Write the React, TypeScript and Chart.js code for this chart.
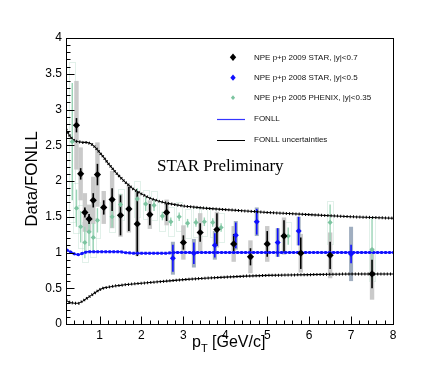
import React, { useEffect, useRef } from 'react';
import { Chart, registerables } from 'chart.js';

Chart.register(...registerables);

// ---- STAR 2009 (black) ----
const STAR09_X = [0.45, 0.55, 0.65, 0.75, 0.85, 0.95, 1.1, 1.3, 1.5, 1.7, 1.9, 2.2, 2.6, 3.0, 3.4, 3.8, 4.2, 4.6, 5.0, 5.4, 5.8, 6.5, 7.5];
const STAR09_Y = [2.78, 2.10, 1.56, 1.47, 1.73, 2.09, 1.63, 1.74, 1.52, 1.61, 1.40, 1.53, 1.56, 1.14, 1.28, 1.32, 1.12, 0.94, 1.12, 1.23, 0.99, 0.96, 0.70];
const STAR09_STAT = [0.10, 0.08, 0.07, 0.07, 0.10, 0.15, 0.10, 0.16, 0.28, 0.31, 0.45, 0.15, 0.12, 0.10, 0.13, 0.23, 0.14, 0.12, 0.18, 0.22, 0.22, 0.19, 0.20];
const STAR09_SYS = [0.62, 0.37, 0.27, 0.20, 0.33, 0.45, 0.23, 0.40, 0.30, 0.33, 0.45, 0.20, 0.18, 0.24, 0.27, 0.25, 0.25, 0.23, 0.25, 0.26, 0.27, 0.32, 0.36];

// ---- STAR 2008 (blue) ----
const STAR08_X = [2.75, 3.25, 3.75, 4.25, 4.75, 5.25, 5.75, 7.0];
const STAR08_Y = [0.92, 0.99, 1.10, 1.24, 1.43, 1.14, 1.30, 0.98];
const STAR08_STAT = [0.19, 0.15, 0.17, 0.18, 0.18, 0.20, 0.20, 0.13];
const STAR08_SYS = [0.23, 0.20, 0.20, 0.20, 0.20, 0.20, 0.20, 0.38];

// ---- PHENIX 2005 (green) ----
const PHENIX_X = [0.35, 0.45, 0.55, 0.65, 0.75, 0.85, 0.95, 1.3, 1.5, 1.9, 2.1, 2.3, 2.5, 2.7, 2.9, 3.1, 3.3, 3.5, 3.7, 3.9, 5.5, 6.5, 7.5];
const PHENIX_Y = [2.55, 1.62, 1.36, 1.14, 1.29, 1.21, 1.45, 1.50, 1.67, 1.75, 1.68, 1.66, 1.51, 1.43, 1.50, 1.41, 1.42, 1.43, 1.42, 1.35, 1.23, 1.42, 1.04];
const PHENIX_STAT = [0.82, 0.26, 0.22, 0.22, 0.20, 0.20, 0.17, 0.15, 0.15, 0.15, 0.10, 0.08, 0.06, 0.06, 0.06, 0.06, 0.06, 0.06, 0.06, 0.06, 0.12, 0.25, 0.44];
const PHENIX_SYS = [1.12, 0.35, 0.30, 0.28, 0.28, 0.27, 0.25, 0.22, 0.22, 0.25, 0.20, 0.20, 0.20, 0.20, 0.20, 0.20, 0.20, 0.20, 0.20, 0.20, 0.20, 0.30, 0.45];

// ---- FONLL curves ----
const FONLL_X = [0.2, 0.3, 0.4, 0.5, 0.6, 0.7, 0.8, 0.9, 1.0, 1.1, 1.2, 1.3, 1.4, 1.5, 1.6, 1.8, 2.0, 2.2, 2.4, 2.6, 2.8, 3.0, 3.5, 4.0, 4.5, 5.0, 5.5, 6.0, 6.5, 7.0, 7.5, 8.0];
const FONLL_CENTER = [1.04, 1.01, 0.98, 0.97, 0.99, 1.01, 1.01, 1.01, 1.01, 1.01, 1.01, 1.01, 1.01, 1.01, 1.0, 0.99, 0.99, 0.99, 0.99, 0.99, 1.0, 1.0, 1.0, 1.0, 1.0, 1.0, 1.0, 1.0, 1.0, 1.0, 1.0, 1.0];
const FONLL_UPPER = [2.72, 2.62, 2.56, 2.55, 2.54, 2.54, 2.52, 2.47, 2.40, 2.33, 2.25, 2.18, 2.11, 2.05, 1.99, 1.89, 1.82, 1.76, 1.72, 1.69, 1.67, 1.65, 1.62, 1.60, 1.58, 1.56, 1.545, 1.53, 1.515, 1.50, 1.49, 1.48];
const FONLL_LOWER = [0.33, 0.30, 0.29, 0.29, 0.32, 0.36, 0.40, 0.44, 0.48, 0.505, 0.515, 0.525, 0.535, 0.54, 0.55, 0.56, 0.57, 0.58, 0.59, 0.60, 0.61, 0.62, 0.64, 0.655, 0.67, 0.68, 0.685, 0.69, 0.695, 0.70, 0.70, 0.70];

// ---- axes ----
const X_TICKS = [1, 2, 3, 4, 5, 6, 7, 8];
const Y_TICKS = [0, 0.5, 1, 1.5, 2, 2.5, 3, 3.5, 4];
const X_MIN = 0.2;
const X_MAX = 8;
const Y_MIN = 0;
const Y_MAX = 4;

const LEGEND_LABELS = [
  'NPE p+p 2009 STAR, |y|<0.7',
  'NPE p+p 2008 STAR, |y|<0.5',
  'NPE p+p 2005 PHENIX, |y|<0.35',
  'FONLL',
  'FONLL uncertainties',
];
const WATERMARK = 'STAR Preliminary';
const Y_TITLE = 'Data/FONLL';

const BLACK = '#000000';
const BLUE = '#1010ff';
const GREEN = '#7cc4a0';
const GREEN_BAR = '#9ad4b6';
const GREY_SYS = '#cacaca';
const BLUE_SYS = 'rgb(160,174,192)';

const pts = (xs: number[], ys: number[]) => xs.map((x, i) => ({ x, y: ys[i] }));

function diamond(ctx: CanvasRenderingContext2D, x: number, y: number, r: number, color: string) {
  ctx.beginPath();
  ctx.moveTo(x, y - r * 1.15);
  ctx.lineTo(x + r, y);
  ctx.lineTo(x, y + r * 1.15);
  ctx.lineTo(x - r, y);
  ctx.closePath();
  ctx.fillStyle = color;
  ctx.fill();
}

const errPlugin = {
  id: 'errbars',
  beforeDatasetsDraw(chart: any) {
    const { ctx, scales } = chart;
    const xs = scales.x;
    const ys = scales.y;
    ctx.save();
    // PHENIX sys outline boxes
    ctx.strokeStyle = 'rgba(150,205,178,0.28)';
    ctx.lineWidth = 1;
    PHENIX_X.forEach((x, i) => {
      const px = xs.getPixelForValue(x);
      const t = ys.getPixelForValue(Math.min(PHENIX_Y[i] + PHENIX_SYS[i], Y_MAX));
      const b = ys.getPixelForValue(PHENIX_Y[i] - PHENIX_SYS[i]);
      ctx.strokeRect(Math.round(px - 3) + 0.5, Math.round(t) + 0.5, 6, Math.round(b - t));
    });
    // STAR 2009 sys boxes
    ctx.fillStyle = GREY_SYS;
    STAR09_X.forEach((x, i) => {
      const px = xs.getPixelForValue(x);
      const t = ys.getPixelForValue(STAR09_Y[i] + STAR09_SYS[i]);
      const b = ys.getPixelForValue(STAR09_Y[i] - STAR09_SYS[i]);
      ctx.fillRect(px - 2.2, t, 4.4, b - t);
    });
    // STAR 2008 sys boxes
    ctx.fillStyle = BLUE_SYS;
    STAR08_X.forEach((x, i) => {
      const px = xs.getPixelForValue(x);
      const t = ys.getPixelForValue(STAR08_Y[i] + STAR08_SYS[i]);
      const b = ys.getPixelForValue(STAR08_Y[i] - STAR08_SYS[i]);
      ctx.fillRect(px - 2, t, 4, b - t);
    });
    const stat = (X: number[], Y: number[], E: number[], color: string, w: number) => {
      ctx.strokeStyle = color;
      ctx.lineWidth = w;
      X.forEach((x, i) => {
        const px = xs.getPixelForValue(x);
        const t = ys.getPixelForValue(Math.min(Y[i] + E[i], Y_MAX));
        const b = ys.getPixelForValue(Y[i] - E[i]);
        ctx.beginPath();
        ctx.moveTo(px, t);
        ctx.lineTo(px, b);
        ctx.stroke();
      });
    };
    stat(PHENIX_X, PHENIX_Y, PHENIX_STAT, GREEN_BAR, 1.4);
    stat(STAR08_X, STAR08_Y, STAR08_STAT, BLUE, 1.6);
    stat(STAR09_X, STAR09_Y, STAR09_STAT, BLACK, 1.6);
    ctx.restore();
  },
  afterDraw(chart: any) {
    const { ctx, chartArea, scales } = chart;
    const xs = scales.x;
    const ys = scales.y;
    const L = Math.round(chartArea.left) + 0.5;
    const R = Math.round(chartArea.right) + 0.5;
    const T = Math.round(chartArea.top) + 0.5;
    const B = Math.round(chartArea.bottom) + 0.5;
    ctx.save();
    ctx.strokeStyle = '#000';
    ctx.lineWidth = 1;
    ctx.strokeRect(L, T, R - L, B - T);
    // y ticks
    ctx.beginPath();
    for (let k = 0; k < Y_TICKS.length; k++) {
      const py = Math.round(ys.getPixelForValue(Y_TICKS[k])) + 0.5;
      ctx.moveTo(L, py);
      ctx.lineTo(L + 8, py);
      if (k < Y_TICKS.length - 1) {
        const step = (Y_TICKS[k + 1] - Y_TICKS[k]) / 5;
        for (let m = 1; m < 5; m++) {
          const q = Math.round(ys.getPixelForValue(Y_TICKS[k] + m * step)) + 0.5;
          ctx.moveTo(L, q);
          ctx.lineTo(L + 4, q);
        }
      }
    }
    // x ticks
    const xstep = (X_TICKS[1] - X_TICKS[0]) / 5;
    for (let v = X_TICKS[0] - xstep * 4; v < X_MAX + 1e-6; v += xstep) {
      if (v < X_MIN + 1e-6) continue;
      const isMajor = Math.abs(v - Math.round(v)) < 1e-6;
      const px = Math.round(xs.getPixelForValue(v)) + 0.5;
      ctx.moveTo(px, B);
      ctx.lineTo(px, B - (isMajor ? 8 : 4));
    }
    ctx.stroke();

    // Legend
    const lx = 233;
    const rows = [57.3, 77.7, 97.7, 119, 140];
    diamond(ctx, lx, rows[0], 3.2, BLACK);
    diamond(ctx, lx, rows[1], 2.7, BLUE);
    diamond(ctx, lx, rows[2], 2.1, GREEN);
    ctx.lineWidth = 1.2;
    ctx.strokeStyle = '#3535ff';
    ctx.beginPath();
    ctx.moveTo(217, Math.round(rows[3]) + 0.5);
    ctx.lineTo(245, Math.round(rows[3]) + 0.5);
    ctx.stroke();
    ctx.lineWidth = 1;
    ctx.strokeStyle = '#000';
    ctx.beginPath();
    ctx.moveTo(217, Math.round(rows[4]) + 0.5);
    ctx.lineTo(245, Math.round(rows[4]) + 0.5);
    ctx.stroke();
    ctx.fillStyle = '#111';
    ctx.font = '8px "Liberation Sans", Arial, sans-serif';
    ctx.textAlign = 'left';
    ctx.textBaseline = 'middle';
    LEGEND_LABELS.forEach((t, i) => ctx.fillText(t, 254, rows[i]));

    // watermark
    ctx.fillStyle = '#000';
    ctx.font = '17px "Liberation Serif", "Times New Roman", serif';
    ctx.textBaseline = 'alphabetic';
    ctx.fillText(WATERMARK, 157, 171);

    // y title
    ctx.save();
    ctx.translate(36.5, 179);
    ctx.rotate(-Math.PI / 2);
    ctx.font = '17px "Liberation Sans", Arial, sans-serif';
    ctx.textAlign = 'center';
    ctx.fillText(Y_TITLE, 0, 0);
    ctx.restore();

    // x title: p_T [GeV/c]
    let x0 = 192;
    const base = 347;
    ctx.textAlign = 'left';
    ctx.font = '16px "Liberation Sans", Arial, sans-serif';
    ctx.fillText('p', x0, base);
    x0 += ctx.measureText('p').width;
    ctx.font = '11px "Liberation Sans", Arial, sans-serif';
    ctx.fillText('T', x0, base + 5);
    x0 += ctx.measureText('T').width;
    ctx.font = '16px "Liberation Sans", Arial, sans-serif';
    ctx.fillText(' [GeV/c]', x0, base);
    ctx.restore();
  },
};

export default function App() {
  const ref = useRef<HTMLCanvasElement>(null);
  useEffect(() => {
    if (!ref.current) return;
    const lineDs = (data: number[], color: string, width: number, dash: number[] | undefined) => ({
      type: 'line' as const,
      data: pts(FONLL_X, data),
      showLine: true,
      borderColor: color,
      borderWidth: width,
      borderDash: dash || [],
      pointRadius: 0,
      fill: false,
      tension: 0,
    });
    const tickFont = { size: 12, family: '"Liberation Sans", Arial, sans-serif' };
    const chart = new Chart(ref.current, {
      type: 'scatter',
      data: {
        datasets: [
          {
            label: LEGEND_LABELS[0],
            data: pts(STAR09_X, STAR09_Y),
            pointStyle: 'rectRot',
            pointRadius: 3.6,
            pointBackgroundColor: BLACK,
            pointBorderColor: BLACK,
            pointBorderWidth: 0,
          },
          {
            label: LEGEND_LABELS[1],
            data: pts(STAR08_X, STAR08_Y),
            pointStyle: 'rectRot',
            pointRadius: 3.0,
            pointBackgroundColor: BLUE,
            pointBorderColor: BLUE,
            pointBorderWidth: 0,
          },
          {
            label: LEGEND_LABELS[2],
            data: pts(PHENIX_X, PHENIX_Y),
            pointStyle: 'rectRot',
            pointRadius: 2.6,
            pointBackgroundColor: GREEN,
            pointBorderColor: GREEN,
            pointBorderWidth: 0,
          },
          lineDs(FONLL_CENTER, BLUE, 3, [2.5, 1.5]),
          lineDs(FONLL_CENTER, BLUE, 1.5, undefined),
          lineDs(FONLL_UPPER, BLACK, 3, [1, 2.2]),
          lineDs(FONLL_UPPER, BLACK, 1.1, undefined),
          lineDs(FONLL_LOWER, BLACK, 3, [1, 2.2]),
          lineDs(FONLL_LOWER, BLACK, 1.1, undefined),
        ] as any,
      },
      options: {
        animation: false,
        responsive: false,
        devicePixelRatio: 1,
        layout: { padding: { left: 0, top: 38, right: 44, bottom: 0 } },
        plugins: { legend: { display: false }, tooltip: { enabled: false } },
        scales: {
          x: {
            type: 'linear',
            min: X_MIN,
            max: X_MAX,
            grid: { display: false, drawTicks: false },
            border: { display: false },
            ticks: { padding: 4, color: '#000', font: tickFont, maxRotation: 0, autoSkip: false, callback: (v: any) => String(v) },
            afterBuildTicks: (s: any) => { s.ticks = X_TICKS.map((v) => ({ value: v })); },
            afterFit: (s: any) => { s.height = 57; },
          },
          y: {
            type: 'linear',
            min: Y_MIN,
            max: Y_MAX,
            grid: { display: false, drawTicks: false },
            border: { display: false },
            ticks: { padding: 4, color: '#000', font: tickFont, autoSkip: false, callback: (v: any) => String(v) },
            afterBuildTicks: (s: any) => { s.ticks = Y_TICKS.map((v) => ({ value: v })); },
            afterFit: (s: any) => { s.width = 66; },
          },
        },
      } as any,
      plugins: [errPlugin],
    });
    return () => chart.destroy();
  }, []);
  return (
    <div style={{ position: 'fixed', left: 0, top: 0, width: 437, height: 381, background: '#fff' }}>
      <canvas ref={ref} width={437} height={381} style={{ width: 437, height: 381, display: 'block' }} />
    </div>
  );
}
